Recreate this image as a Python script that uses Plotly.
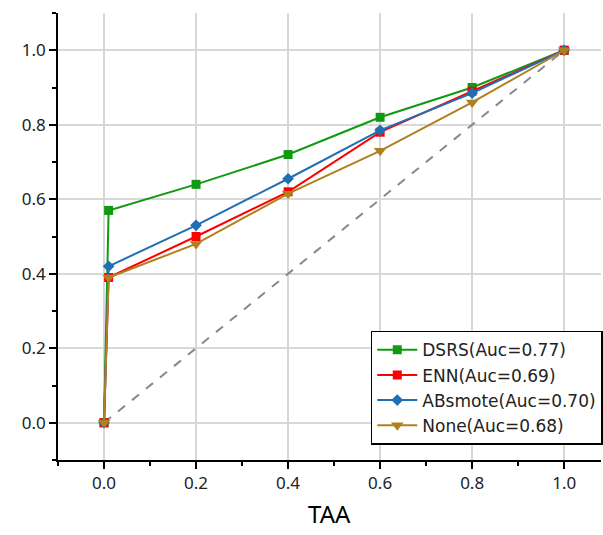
import plotly.graph_objects as go

x_vals = [0.0, 0.01, 0.2, 0.4, 0.6, 0.8, 1.0]
dsrs = [0.0, 0.57, 0.64, 0.72, 0.82, 0.90, 1.0]
enn = [0.0, 0.39, 0.50, 0.62, 0.78, 0.89, 1.0]
absmote = [0.0, 0.42, 0.53, 0.655, 0.785, 0.885, 1.0]
none_ = [0.0, 0.39, 0.48, 0.615, 0.73, 0.86, 1.0]
diag_x = [0.0, 1.0]
diag_y = [0.0, 1.0]
tick_vals = [0, 0.2, 0.4, 0.6, 0.8, 1.0]
tick_text = ["0.0", "0.2", "0.4", "0.6", "0.8", "1.0"]

names = ["DSRS(Auc=0.77)", "ENN(Auc=0.69)", "ABsmote(Auc=0.70)", "None(Auc=0.68)"]
colors = ["#119a11", "#ff0000", "#1f6fb4", "#b08020"]
symbols = ["square", "square", "diamond", "triangle-down"]
series = [dsrs, enn, absmote, none_]

fig = go.Figure()
fig.add_trace(go.Scatter(x=diag_x, y=diag_y, mode="lines",
                         line=dict(color="#888888", width=2, dash="dash"),
                         showlegend=False))
for n, c, s, ys in zip(names, colors, symbols, series):
    fig.add_trace(go.Scatter(x=x_vals, y=ys, mode="lines+markers", name=n,
                             line=dict(color=c, width=2),
                             marker=dict(symbol=s, size=9 if s != "triangle-down" else 11, color=c)))

font_family = "Noto Sans, Open Sans, DejaVu Sans"
fig.update_layout(
    width=603, height=535,
    margin=dict(l=58, r=0, t=13, b=75),
    plot_bgcolor="white", paper_bgcolor="white",
    font=dict(family=font_family, size=17, color="#222"),
    legend=dict(x=0.576, xanchor="left", y=0.034, yanchor="bottom",
                bordercolor="black", borderwidth=1.5, bgcolor="white",
                font=dict(size=17, color="#222", family="DejaVu Sans"),
                tracegroupgap=0, itemwidth=40),
    annotations=[dict(text="TAA", xref="paper", yref="paper", x=0.5, y=-0.119,
                      xanchor="center", yanchor="middle", showarrow=False,
                      font=dict(size=24, color="black", family=font_family))],
)
fig.update_xaxes(range=[-0.1, 1.08], tickvals=tick_vals, ticktext=tick_text,
                 automargin=False,
                 showline=True, linecolor="black", linewidth=1.5,
                 ticks="outside", ticklen=7, tickcolor="black", tickwidth=1.5,
                 showgrid=True, gridcolor="#d8d8d8", gridwidth=1.5, zeroline=False,
                 minor=dict(ticks="outside", dtick=0.1, tick0=0, ticklen=4, tickcolor="black", showgrid=False))
fig.update_yaxes(range=[-0.1, 1.1], tickvals=tick_vals, ticktext=tick_text,
                 automargin=False,
                 showline=True, linecolor="black", linewidth=1.5,
                 ticks="outside", ticklen=7, tickcolor="black", tickwidth=1.5,
                 showgrid=True, gridcolor="#d8d8d8", gridwidth=1.5, zeroline=False,
                 minor=dict(ticks="outside", dtick=0.1, tick0=0, ticklen=4, tickcolor="black", showgrid=False))

fig.write_html("out.html", config={"displayModeBar": False},
               post_script="document.body.style.margin='0';document.body.style.overflow='hidden';")
